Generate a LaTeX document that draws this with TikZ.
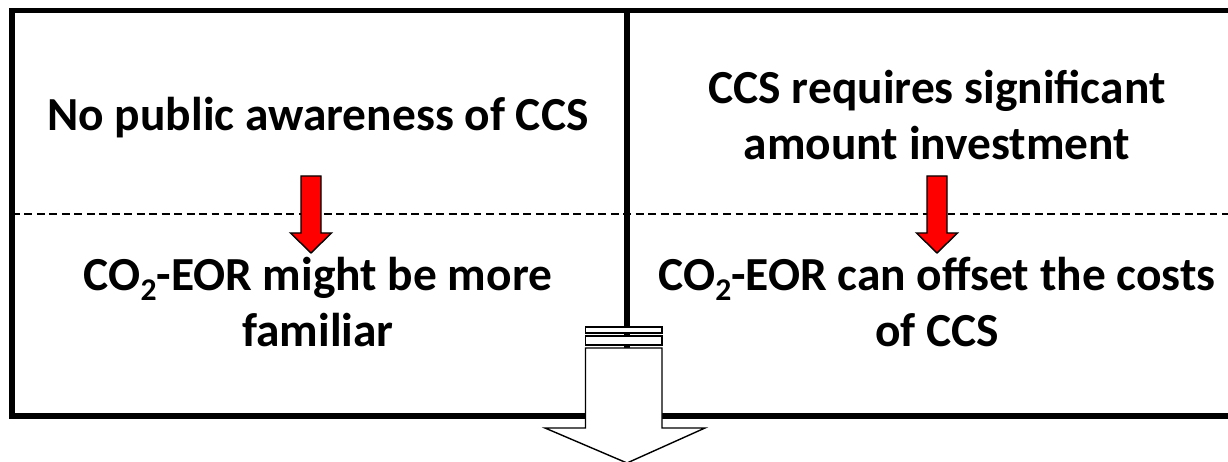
\documentclass[tikz,border=0pt]{standalone}
\usepackage{fontspec}
\setmainfont{Carlito}
\usetikzlibrary{positioning}

\tikzset{
  label text/.style={font=\bfseries\fontsize{27}{31.7}\selectfont, align=center, inner sep=0pt},
  red arrow/.style={fill=red, draw=black, line width=0.8pt, line join=miter},
  frame line/.style={line width=3pt},
}
\newcommand{\sub}[1]{\raisebox{-0.45ex}{\fontsize{18}{18}\selectfont #1}}

\begin{document}
\begin{tikzpicture}[x=0.02cm, y=-0.02cm]
\clip (0,0) rectangle (1228,462);

% frame and divider
\draw[frame line] (12,10.5) rectangle (1245,416);
\draw[frame line] (627,10.5) -- (627,350);
\draw[line width=1.4pt, dash pattern=on 4.5pt off 2.6pt] (12,214) -- (1228,214);

% texts
\node[label text] (awareness) at (318,118) {No public awareness of CCS};
\node[label text] (investment) at (937,115) {CCS requires significant\\amount investment};
\node[label text] (familiar) at (318,302) {CO\sub{2}-EOR might be more\\familiar};
\node[label text] (offset) at (937,302) {CO\sub{2}-EOR can offset the costs\\of CCS};

% red arrows
\coordinate (arrowA) at (311,176);
\coordinate (arrowB) at (937,176);
\draw[red arrow] (arrowA) ++(-10,0) -- ++(20,0) -- ++(0,57) -- ++(10.5,0) -- ++(-20.5,20) -- ++(-20.5,-20) -- ++(10.5,0) -- cycle;
\draw[red arrow] (arrowB) ++(-10,0) -- ++(20,0) -- ++(0,57) -- ++(10.5,0) -- ++(-20.5,20) -- ++(-20.5,-20) -- ++(10.5,0) -- cycle;

% striped down arrow
\draw[fill=white, line width=0.8pt] (585.5,327) rectangle (662,333);
\draw[fill=white, line width=0.8pt] (585.5,336) rectangle (662,345);
\draw[fill=white, line width=0.8pt] (585.5,348) -- (585.5,428) -- (545,428) -- (627,463) -- (705,428) -- (662,428) -- (662,348) -- cycle;

\end{tikzpicture}
\end{document}
